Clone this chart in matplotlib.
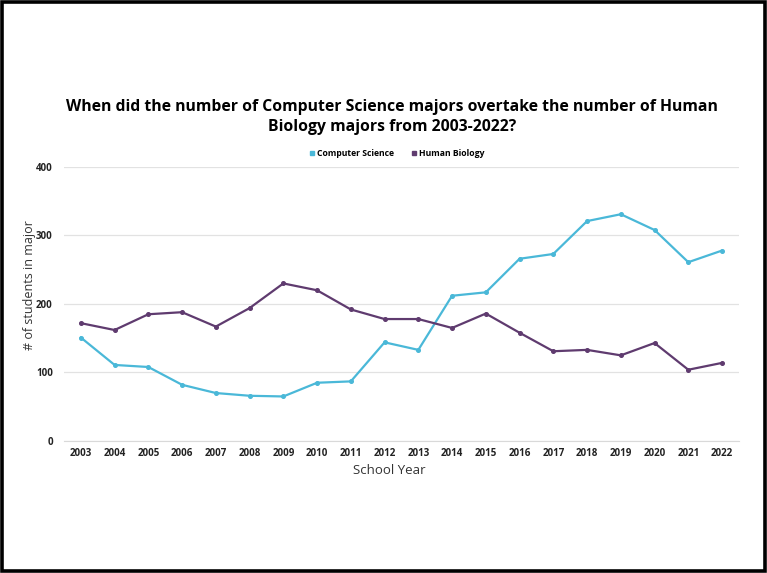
import matplotlib
matplotlib.use('Agg')
import matplotlib.pyplot as plt
from matplotlib.patches import Rectangle
import numpy as np

years = [str(y) for y in range(2003, 2023)]
comp_sci = [151, 111, 108, 82, 70, 66, 65, 85, 87, 144,
            133, 212, 217, 266, 273, 321, 331, 308, 261, 278]
human_bio = [172, 162, 185, 188, 167, 194, 230, 220, 192, 178,
             178, 165, 186, 158, 131, 133, 125, 143, 104, 114]

cs_color = "#4ab8d8"
hb_color = "#5f3b6f"

plt.rcParams['font.family'] = ['Open Sans', 'DejaVu Sans']

fig = plt.figure(figsize=(7.67, 5.73), dpi=100)
ax = fig.add_axes([0.0834, 0.2304, 0.880, 0.4782])

x = np.arange(len(years))
ax.plot(x, comp_sci, color=cs_color, lw=1.6, marker='o', ms=2.6, label="Computer Science")
ax.plot(x, human_bio, color=hb_color, lw=1.6, marker='o', ms=2.6, label="Human Biology")

ax.set_xlim(-0.5, len(years) - 0.5)
ax.set_ylim(0, 400)
ax.set_yticks([0, 100, 200, 300, 400])
ax.set_xticks(x)
ax.set_xticklabels(years)
ax.tick_params(axis='both', length=0, labelsize=7, colors="#222222", pad=5)
for lbl in ax.get_xticklabels() + ax.get_yticklabels():
    lbl.set_fontweight('bold')
ax.tick_params(axis='y', pad=8)

ax.grid(axis='y', color="#e2e2e2", lw=0.9)
ax.set_axisbelow(True)
for s in ['top', 'right', 'left']:
    ax.spines[s].set_visible(False)
ax.spines['bottom'].set_color("#d9d9d9")

ax.set_xlabel("School Year", fontsize=9.5, color="#333333")
ax.set_ylabel("# of students in major", fontsize=9, color="#333333")
ax.xaxis.set_label_coords(0.482, -0.085)
ax.yaxis.set_label_coords(-0.041, 0.57)

fig.text(0.511, 1 - 117 / 573, "When did the number of Computer Science majors overtake the number of Human\nBiology majors from 2003-2022?",
         ha='center', va='center', fontsize=11.3, fontweight='bold', linespacing=1.4)

handles = [plt.Line2D([], [], color=c, marker='s', ls='none', ms=3.2) for c in (cs_color, hb_color)]
fig.legend(handles, ["Computer Science", "Human Biology"], loc='center', bbox_to_anchor=(0.516, 1 - 154 / 573),
           ncol=2, frameon=False, handletextpad=0.1, columnspacing=1.8, handlelength=1.0,
           prop={'weight': 'bold', 'size': 6.2})

fig.patches.append(Rectangle((0.003, 0.004), 0.994, 0.993, transform=fig.transFigure,
                             fill=False, edgecolor='black', lw=2.6))

fig.savefig("out.png", dpi=100)
